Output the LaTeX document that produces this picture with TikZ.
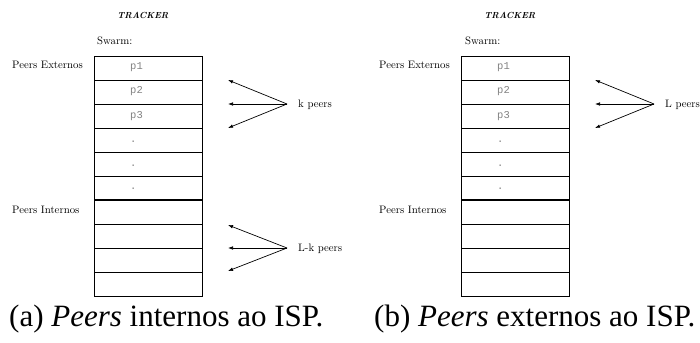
\documentclass[tikz,border=0pt]{standalone}
\usepackage{fontspec}
\newfontfamily\capfont{Liberation Serif}
\newfontfamily\monofont{Liberation Mono}
\usetikzlibrary{arrows.meta}
\definecolor{entrygray}{RGB}{130,130,130}
\tikzset{
  lbl/.style={inner sep=0pt, anchor=base west, font=\fontsize{10.8}{12}\selectfont},
  title/.style={inner sep=0pt, anchor=base, font=\fontsize{8.8}{10}\selectfont\bfseries\itshape},
  slot/.style={draw, line width=0.8pt, minimum width=108.5pt, minimum height=24pt, inner sep=0pt, outer sep=0pt},
  entry/.style={inner sep=0pt, anchor=base west, text=entrygray, font=\fontsize{10.5}{12}\monofont},
  divider/.style={line width=2pt},
  ptr/.style={line width=0.7pt, -{Latex[length=5pt,width=3.6pt]}},
  caption/.style={inner sep=0pt, anchor=base west, font=\fontsize{31}{36}\capfont},
}
\begin{document}
\begin{tikzpicture}[x=1pt,y=-1pt]
\useasboundingbox (0,0) rectangle (700,342);

% ---------- panel (a) ----------
\node[title] (ta) at (143,19) {TRACKER};
\node[lbl] (swa) at (97,45) {Swarm:};
\node[lbl] (exa) at (12,69) {Peers Externos};
\node[lbl] (ina) at (12,213) {Peers Internos};
\foreach \i in {0,...,9} {
  \node[slot] (a\i) at (148.5,{68+24*\i}) {};
}
\draw[divider] (a5.south west) -- (a5.south east);
\node[entry] (ap1) at (130,70) {p1};
\node[entry] (ap2) at (130,94) {p2};
\node[entry] (ap3) at (130,118) {p3};
\node[entry] (ad1) at (130,142) {.};
\node[entry] (ad2) at (130,166) {.};
\node[entry] (ad3) at (130,189) {.};

\coordinate (ka) at (287,104);
\coordinate (ka1) at (228,80);
\coordinate (ka2) at (228,104);
\coordinate (ka3) at (228,128);
\draw[ptr] (ka) -- (ka1);
\draw[ptr] (ka) -- (ka2);
\draw[ptr] (ka) -- (ka3);
\node[lbl] (kpeers) at (298,107.5) {k peers};

\coordinate (la) at (287,248);
\coordinate (la1) at (228,225);
\coordinate (la2) at (228,248);
\coordinate (la3) at (228,271);
\draw[ptr] (la) -- (la1);
\draw[ptr] (la) -- (la2);
\draw[ptr] (la) -- (la3);
\node[lbl] (lkpeers) at (298,251.5) {L-k peers};

\node[caption] (capa) at (9,326) {(a) \textit{Peers} internos ao ISP.};

% ---------- panel (b) ----------
\node[title] (tb) at (510,19) {TRACKER};
\node[lbl] (swb) at (465,45) {Swarm:};
\node[lbl] (exb) at (379,69) {Peers Externos};
\node[lbl] (inb) at (379,213) {Peers Internos};
\foreach \i in {0,...,9} {
  \node[slot] (b\i) at (515.5,{68+24*\i}) {};
}
\draw[divider] (b5.south west) -- (b5.south east);
\node[entry] (bp1) at (497,70) {p1};
\node[entry] (bp2) at (497,94) {p2};
\node[entry] (bp3) at (497,118) {p3};
\node[entry] (bd1) at (497,142) {.};
\node[entry] (bd2) at (497,166) {.};
\node[entry] (bd3) at (497,189) {.};

\coordinate (lb) at (654,104);
\coordinate (lb1) at (595,80);
\coordinate (lb2) at (595,104);
\coordinate (lb3) at (595,128);
\draw[ptr] (lb) -- (lb1);
\draw[ptr] (lb) -- (lb2);
\draw[ptr] (lb) -- (lb3);
\node[lbl] (lpeers) at (665,107.5) {L peers};

\node[caption] (capb) at (374,326) {(b) \textit{Peers} externos ao ISP.};
\end{tikzpicture}
\end{document}
